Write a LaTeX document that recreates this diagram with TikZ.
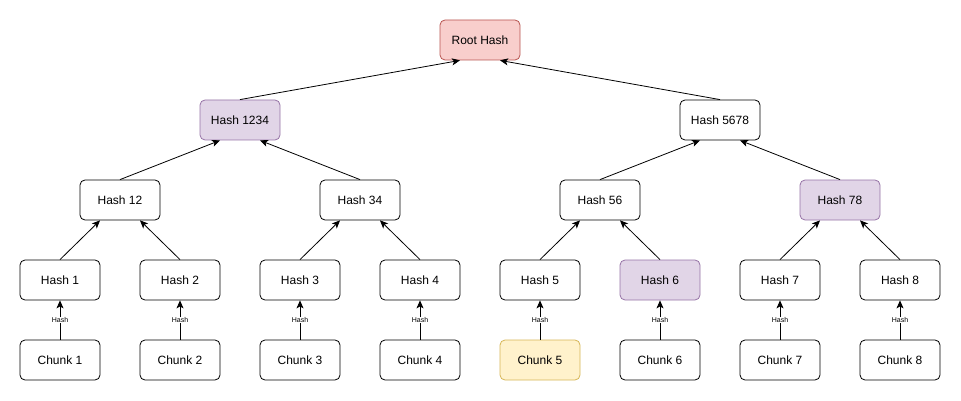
\documentclass[tikz,border=0pt]{standalone}
\usepackage{fontspec}
\setmainfont{Liberation Sans}
\usetikzlibrary{arrows.meta}
\definecolor{rootfill}{HTML}{F8CECC}
\definecolor{rootdraw}{HTML}{B85450}
\definecolor{purfill}{HTML}{E1D5E7}
\definecolor{purdraw}{HTML}{9673A6}
\definecolor{yelfill}{HTML}{FFF2CC}
\definecolor{yeldraw}{HTML}{D6B656}
\tikzset{
  box/.style={draw=black, fill=white, rounded corners=5pt, minimum width=80pt, minimum height=40pt, inner sep=0pt, font=\fontsize{12pt}{14pt}\selectfont, line width=0.8pt},
  rootbox/.style={box, draw=rootdraw, fill=rootfill},
  purbox/.style={box, draw=purdraw, fill=purfill},
  yelbox/.style={box, draw=yeldraw, fill=yelfill},
  conn/.style={-{Stealth[length=8pt,width=7pt,inset=2pt]}, line width=0.8pt},
  lbl/.style={font=\fontsize{7pt}{8pt}\selectfont, fill=white, inner sep=0.5pt}
}
\begin{document}
\begin{tikzpicture}[x=1pt,y=-1pt]
\useasboundingbox (0,0) rectangle (961,401);
\node[rootbox] (root) at (480,40) {Root Hash};
\node[purbox] (h1234) at (240,120) {Hash 1234};
\node[box] (h5678) at (720,120) {Hash 5678};
\node[box] (h12) at (120,200) {Hash 12};
\node[box] (h34) at (360,200) {Hash 34};
\node[box] (h56) at (600,200) {Hash 56};
\node[purbox] (h78) at (840,200) {Hash 78};
\node[box] (h1) at (60,280) {Hash 1};
\node[box] (h2) at (180,280) {Hash 2};
\node[box] (h3) at (300,280) {Hash 3};
\node[box] (h4) at (420,280) {Hash 4};
\node[box] (h5) at (540,280) {Hash 5};
\node[purbox] (h6) at (660,280) {Hash 6};
\node[box] (h7) at (780,280) {Hash 7};
\node[box] (h8) at (900,280) {Hash 8};
\node[box] (c1) at (60,360) {Chunk 1};
\node[box] (c2) at (180,360) {Chunk 2};
\node[box] (c3) at (300,360) {Chunk 3};
\node[box] (c4) at (420,360) {Chunk 4};
\node[yelbox] (c5) at (540,360) {Chunk 5};
\node[box] (c6) at (660,360) {Chunk 6};
\node[box] (c7) at (780,360) {Chunk 7};
\node[box] (c8) at (900,360) {Chunk 8};
% chunk -> hash
\foreach \i in {1,...,8} {
  \draw[conn] (c\i.north) -- node[lbl] {Hash} (h\i.south);
}
% level 1
\draw[conn] (h1.north) -- ([xshift=-20pt]h12.south);
\draw[conn] (h2.north) -- ([xshift=20pt]h12.south);
\draw[conn] (h3.north) -- ([xshift=-20pt]h34.south);
\draw[conn] (h4.north) -- ([xshift=20pt]h34.south);
\draw[conn] (h5.north) -- ([xshift=-20pt]h56.south);
\draw[conn] (h6.north) -- ([xshift=20pt]h56.south);
\draw[conn] (h7.north) -- ([xshift=-20pt]h78.south);
\draw[conn] (h8.north) -- ([xshift=20pt]h78.south);
% level 2
\draw[conn] (h12.north) -- ([xshift=-20pt]h1234.south);
\draw[conn] (h34.north) -- ([xshift=20pt]h1234.south);
\draw[conn] (h56.north) -- ([xshift=-20pt]h5678.south);
\draw[conn] (h78.north) -- ([xshift=20pt]h5678.south);
% level 3
\draw[conn] (h1234.north) -- ([xshift=-20pt]root.south);
\draw[conn] (h5678.north) -- ([xshift=20pt]root.south);
\end{tikzpicture}
\end{document}
